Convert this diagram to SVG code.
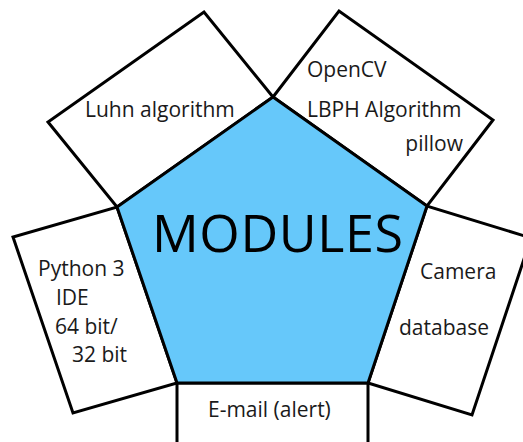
<svg xmlns="http://www.w3.org/2000/svg" width="523" height="442" viewBox="0 0 523 442">
<style>
.box{fill:#ffffff;stroke:#000000;stroke-width:3;stroke-linejoin:miter}
.pent{fill:#66C8FA;stroke:#000000;stroke-width:3;stroke-linejoin:miter}
.t{font-family:"Open Sans","Liberation Sans",sans-serif;font-size:21px;fill:#1a1a1a}
.big{font-family:"Open Sans","Liberation Sans",sans-serif;font-size:52px;fill:#000000}
</style>
<rect width="523" height="442" fill="#ffffff"/>
<g id="luhn">
<polygon class="box" points="117,207 273,97 204,12 48,122"/>
<text class="t" x="85" y="117">Luhn algorithm</text>
</g>
<g id="opencv">
<polygon class="box" points="273,97 427,206 493,120 339,11"/>
<text class="t" x="307" y="77">OpenCV</text>
<text class="t" x="307" y="117">LBPH Algorithm</text>
<text class="t" x="463" y="151" text-anchor="end">pillow</text>
</g>
<g id="python">
<polygon class="box" points="117,207 177,383 73,413 13,237"/>
<text class="t" x="38" y="276">Python 3</text>
<text class="t" x="56" y="305">IDE</text>
<text class="t" x="55" y="334">64 bit/</text>
<text class="t" x="72" y="362">32 bit</text>
</g>
<g id="camera">
<polygon class="box" points="427,206 368,383 472,415 531,238"/>
<text class="t" x="420" y="279">Camera</text>
<text class="t" x="399" y="335">database</text>
</g>
<g id="email">
<polygon class="box" points="177,383 368,383 368,492 177,492"/>
<text class="t" x="208" y="417">E-mail (alert)</text>
</g>
<g id="modules">
<polygon class="pent" points="273,97 427,206 368,383 177,383 117,207"/>
<text class="big" x="152" y="252" textLength="251">MODULES</text>
</g>
<g id="connectors"></g>
</svg>
